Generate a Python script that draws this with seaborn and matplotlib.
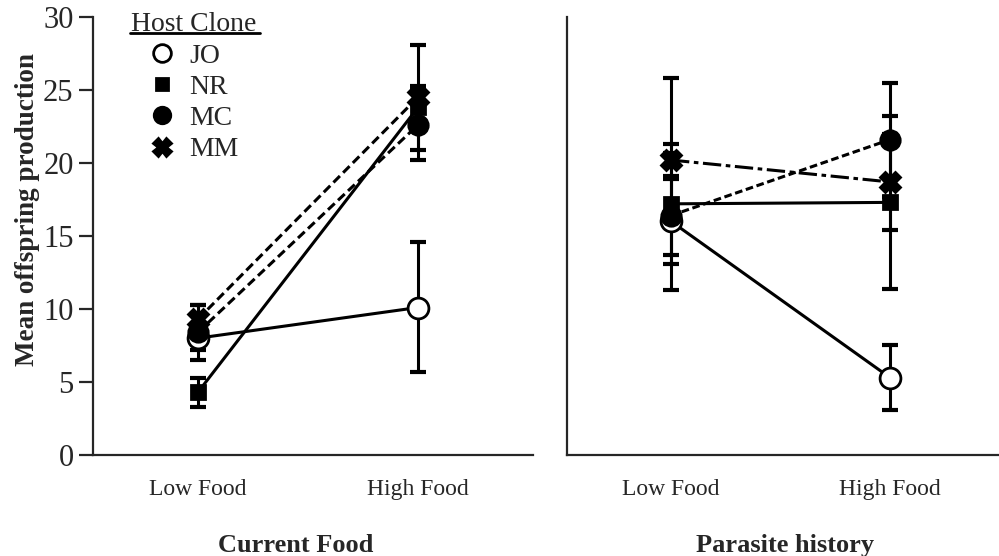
import numpy as np
import pandas as pd
import matplotlib
matplotlib.use("Agg")
import matplotlib.pyplot as plt
from matplotlib.lines import Line2D
import seaborn as sns

# data
food = ["Low Food", "High Food"]
clones = ["JO", "NR", "MC", "MM"]

# current food panel
cur_mean = {"JO": [8.0, 10.1], "NR": [4.3, 23.8], "MC": [8.4, 22.6], "MM": [9.3, 24.5]}
cur_lo = {"JO": [0.8, 4.4], "NR": [1.0, 1.5], "MC": [1.9, 2.4], "MM": [1.0, 3.6]}
cur_hi = {"JO": [0.8, 4.5], "NR": [1.0, 1.5], "MC": [1.9, 2.4], "MM": [1.0, 3.6]}

# parasite history panel
par_mean = {"JO": [16.0, 5.3], "NR": [17.2, 17.3], "MC": [16.4, 21.6], "MM": [20.2, 18.7]}
par_lo = {"JO": [2.9, 2.2], "NR": [3.5, 5.9], "MC": [5.1, 3.9], "MM": [1.1, 3.3]}
par_hi = {"JO": [2.9, 2.2], "NR": [3.5, 5.9], "MC": [9.4, 3.9], "MM": [1.1, 3.3]}

markers = {"JO": "o", "NR": "s", "MC": "o", "MM": "X"}
msize = {"JO": 15, "NR": 10, "MC": 14, "MM": 15}
mface = {"JO": "white", "NR": "black", "MC": "black", "MM": "black"}
cur_ls = {"JO": "-", "NR": "-", "MC": (0, (3, 1.5)), "MM": (0, (3, 1.5))}
par_ls = {"JO": "-", "NR": "-", "MC": (0, (2.5, 1.2)), "MM": (0, (6, 1.5, 1.5, 1.5))}


def long_df(means):
    rows = []
    for c in clones:
        for f, v in zip(food, means[c]):
            rows.append({"clone": c, "food": f, "mean": v})
    return pd.DataFrame(rows)


sns.set_style("white")
plt.rcParams["font.family"] = ["Liberation Serif", "DejaVu Serif"]
plt.rcParams["axes.linewidth"] = 1.6

fig = plt.figure(figsize=(9.99, 5.56), dpi=100)
ax1 = fig.add_axes([0.0931, 0.1817, 0.4404, 0.7878])
ax2 = fig.add_axes([0.5676, 0.1817, 0.4324, 0.7878])


def panel(ax, means, lo, hi, ls):
    df = long_df(means)
    for c in clones:
        d = df[df.clone == c]
        ax.errorbar(d["food"], d["mean"], yerr=[lo[c], hi[c]], fmt="none",
                    ecolor="black", elinewidth=2.2, capsize=6, capthick=3, zorder=2)
        sns.lineplot(data=d, x="food", y="mean", ax=ax, color="black",
                     marker=markers[c], markersize=msize[c], markerfacecolor=mface[c],
                     markeredgecolor="black", markeredgewidth=2, linewidth=2.2,
                     linestyle=ls[c], errorbar=None, sort=False, zorder=3)
    ax.set_ylim(0, 30)
    sns.despine(ax=ax)
    ax.tick_params(axis="x", length=0, pad=17.5, labelsize=17)
    ax.set_xlabel("")
    ax.set_ylabel("")


panel(ax1, cur_mean, cur_lo, cur_hi, cur_ls)
panel(ax2, par_mean, par_lo, par_hi, par_ls)

ax1.set_xlim(-0.477, 1.523)
ax2.set_xlim(-0.475, 1.498)

ax1.set_yticks(np.arange(0, 31, 5))
ax1.tick_params(axis="y", length=10, width=1.6, pad=4, labelsize=22, direction="out", left=True)
ax2.set_yticks([])

ax1.set_ylabel("Mean offspring production", fontsize=19.5, fontweight="bold")
ax1.yaxis.set_label_coords(-0.12, 0.56)
ax1.set_xlabel("Current Food", fontsize=19, fontweight="bold")
ax1.xaxis.set_label_coords(0.461, -0.18)
ax2.set_xlabel("Parasite history", fontsize=19, fontweight="bold")
ax2.xaxis.set_label_coords(0.505, -0.18)

handles = [Line2D([], [], linestyle="none", marker=markers[c], markersize=msize[c] * 0.85,
                  markerfacecolor=mface[c], markeredgecolor="black", markeredgewidth=2,
                  color="black") for c in clones]
leg = ax1.legend(handles, clones, title="Host Clone", loc="upper left",
                 bbox_to_anchor=(0.06, 1.036), frameon=False, fontsize=20,
                 title_fontsize=20, labelspacing=0.21, handletextpad=0.5,
                 handlelength=1.0, borderaxespad=0)
ax1.add_line(Line2D([0.084, 0.38], [0.963, 0.963], transform=ax1.transAxes,
                    color="black", linewidth=2, clip_on=False))

fig.savefig("out.png", dpi=100)
